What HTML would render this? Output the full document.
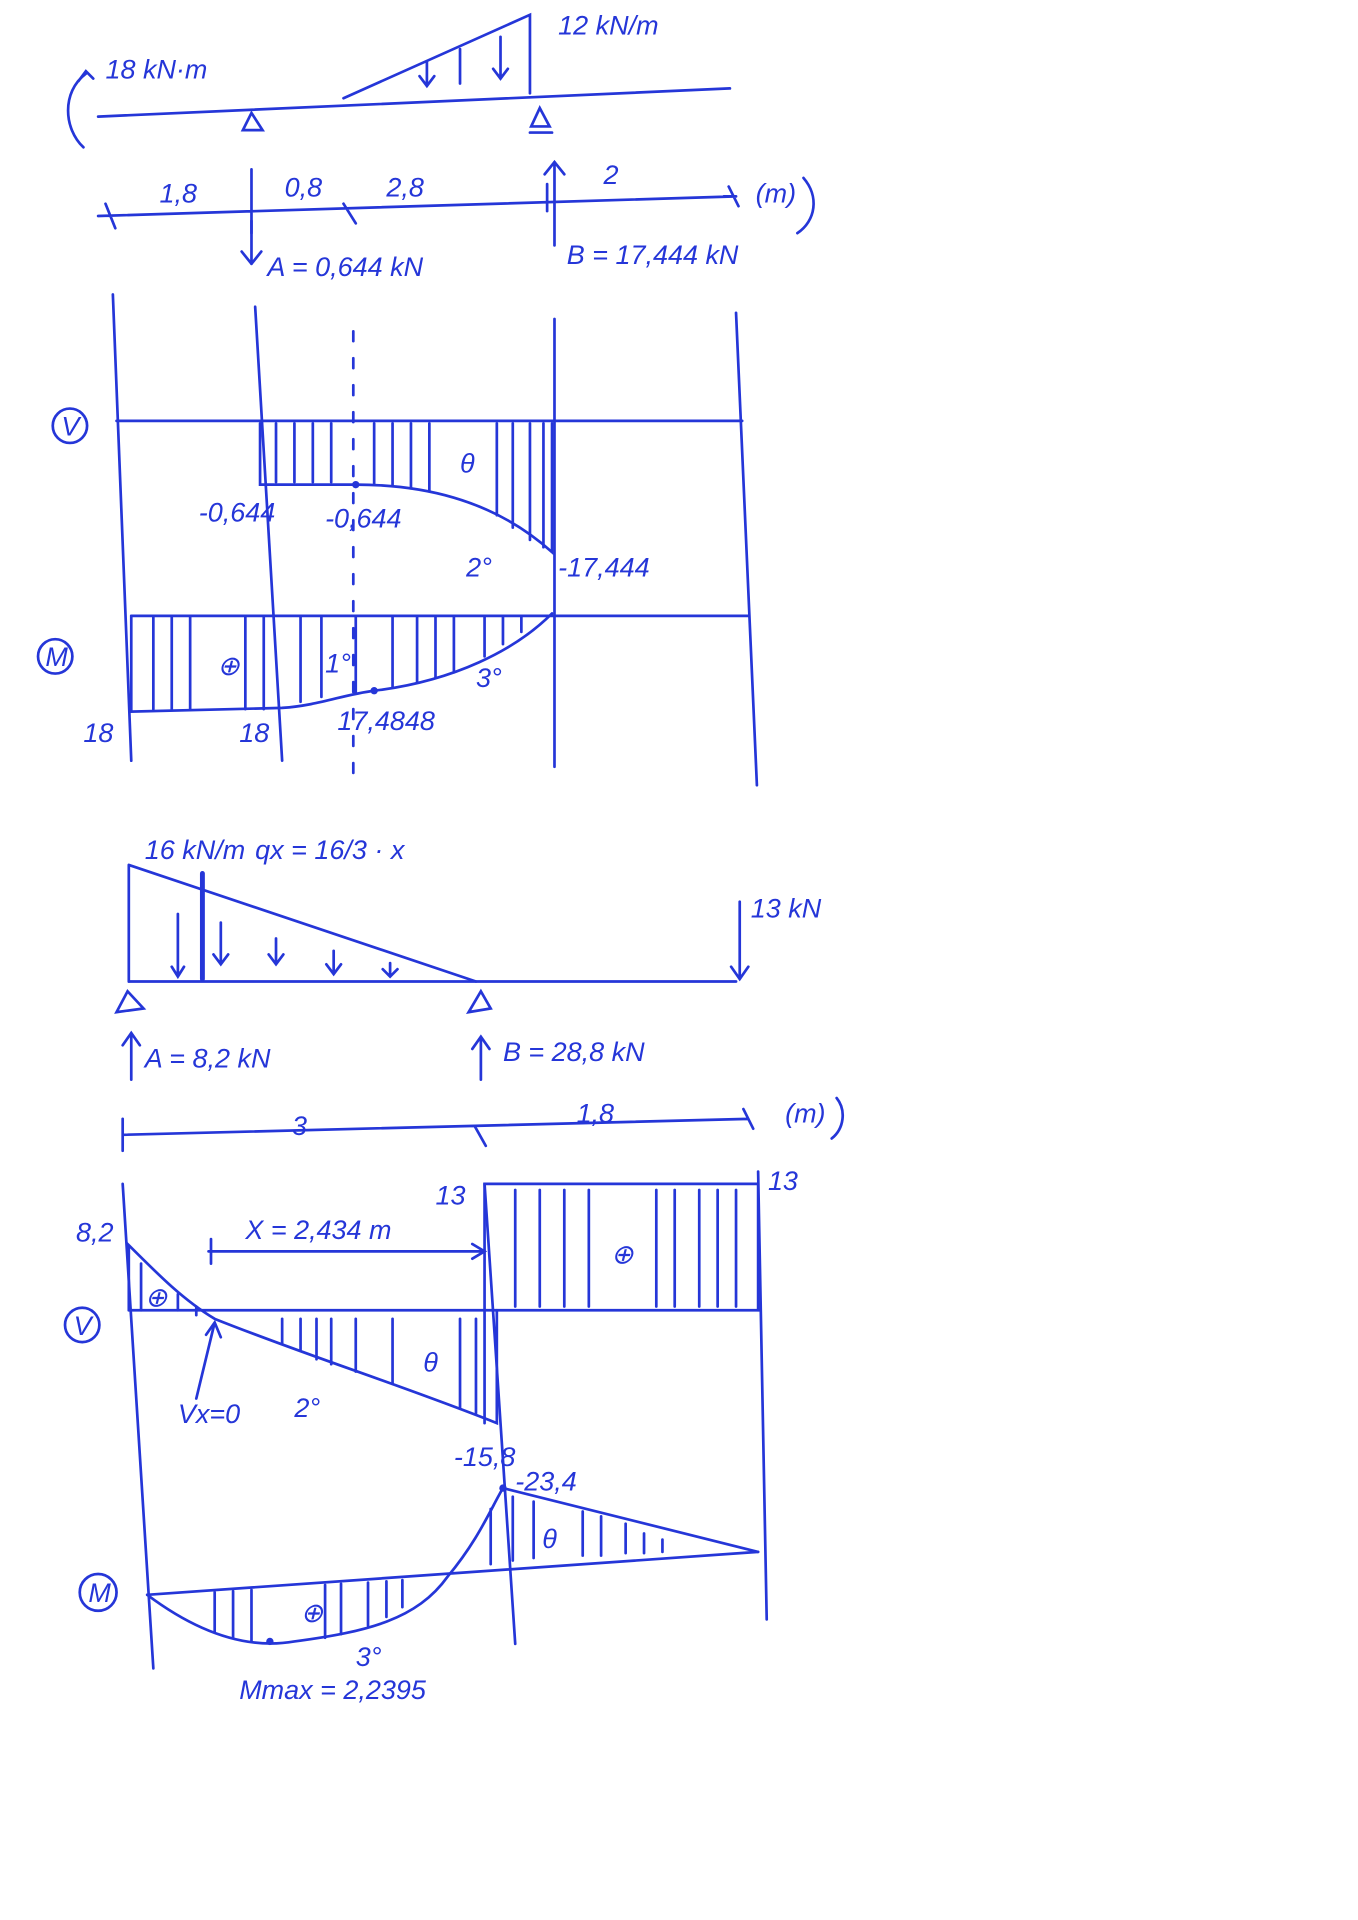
<!DOCTYPE html>
<html><head><meta charset="utf-8"><style>
html,body{margin:0;padding:0;background:#fff;}
svg{display:block}
text{font-family:"Liberation Sans",sans-serif;font-style:italic;fill:#2536d8;font-size:22px}
</style></head><body>
<svg width="1358" height="1920" viewBox="0 0 1107 1565" xmlns="http://www.w3.org/2000/svg">
<g stroke="#2536d8" stroke-width="2.2" fill="none" stroke-linecap="round">
<path d="M80 95 L595 72"/>
<path d="M280 80 L432 12 L432 76"/>
<path d="M348 50 V70 M342 62 L348 70 L354 62 M375 40 V68 M408 30 V64 M402 56 L408 64 L414 56"/>
<path d="M70 60 C50 75 52 105 68 120 M64 66 L70 58 L76 64"/>
<path d="M198 106 L205 92 L214 106 Z M433 103 L440 88 L448 103 Z M432 108 H450"/>
<path d="M80 176 L600 160 M86 166 L94 186 M205 138 V190 M280 166 L290 182 M446 150 V172 M594 152 L602 168 M590 160 L600 160"/>
<path d="M205 180 V215 M197 205 L205 215 M213 205 L205 215"/>
<path d="M452 200 V132 M444 142 L452 132 L460 142"/>
<path d="M655 145 C668 160 665 180 650 190"/>
<path d="M92 240 L107 620 M208 250 L230 620 M452 260 V625 M600 255 L617 640" />
<path d="M288 270 V640" stroke-dasharray="8 14"/>
<path d="M95 343 H605"/>
<path d="M212 345 V395 H290 C340 395 400 405 450 450 V345"/>
<path d="M225 345V393 M240 345V393 M255 345V393 M270 345V393 M305 345V395 M320 345V396 M335 345V398 M350 345V400 M405 345V420 M418 345V430 M432 345V440 M443 345V446"/>
<circle cx="57" cy="347" r="14"/>
<path d="M107 502 H610"/>
<path d="M107 502 V580 L230 577 C260 575 280 566 305 563 C370 555 420 530 450 500"/>
<path d="M125 503V578 M140 503V578 M155 503V578 M200 503V578 M215 503V578 M245 503V572 M262 503V568 M290 503V565 M320 503V560 M340 503V556 M355 503V552 M370 503V548 M395 503V535 M410 503V525 M425 503V515"/>
<circle cx="45" cy="535" r="14"/>
<path d="M105 800 H600"/>
<path d="M105 705 V800 M105 705 L388 800"/>
<path d="M165 712 V798" stroke-width="4"/>
<path d="M145 745 V795 M180 752 V785 M225 765 V785 M272 775 V792 M318 785 V795 M140 788 L145 796 L150 788 M174 778 L180 786 L186 778 M219 778 L225 786 L231 778 M266 786 L272 794 L278 786 M312 790 L318 796 L324 790"/>
<path d="M603 735 V798 M596 788 L603 798 L610 788"/>
<path d="M95 825 L104 808 L117 822 Z M382 825 L392 808 L400 822 Z"/>
<path d="M107 880 V842 M100 852 L107 842 L114 852 M392 880 V845 M385 855 L392 845 L399 855"/>
<path d="M100 925 L610 912 M100 912 V938 M387 918 L396 934 M606 904 L614 920 M682 895 C690 905 688 920 678 928"/>
<path d="M100 965 L125 1360 M395 965 L420 1340 M618 955 L625 1320"/>
<path d="M105 1068 H620"/>
<path d="M395 1160 V965 H618 V1068"/>
<path d="M105 1068 V1015 C130 1040 150 1060 175 1075 C250 1105 330 1130 405 1160 V1068"/>
<path d="M115 1030V1068 M145 1055V1068 M160 1065V1072 M230 1075V1095 M245 1075V1100 M258 1075V1108 M270 1075V1112 M290 1075V1118 M320 1075V1128 M375 1075V1148 M388 1075V1152"/>
<path d="M420 970V1065 M440 970V1065 M460 970V1065 M480 970V1065 M535 970V1065 M550 970V1065 M570 970V1065 M585 970V1065 M600 970V1065"/>
<path d="M170 1020 H395 M385 1014 L395 1020 L385 1026 M172 1010 V1030"/>
<path d="M160 1140 L175 1078 M168 1088 L175 1078 L180 1090"/>
<circle cx="67" cy="1080" r="14"/>
<path d="M120 1300 L618 1265"/>
<path d="M120 1300 C160 1330 200 1345 240 1338 C300 1330 340 1320 365 1285 C390 1255 400 1230 410 1213 L618 1265"/>
<path d="M175 1298V1330 M190 1297V1335 M205 1296V1338 M265 1292V1335 M278 1291V1332 M300 1290V1325 M315 1289V1318 M328 1288V1310 M400 1230V1275 M418 1220V1272 M435 1224V1270 M475 1232V1268 M490 1236V1268 M510 1242V1266 M525 1250V1266 M540 1255V1265"/>
<circle cx="80" cy="1298" r="15"/>
</g>
<g fill="#2536d8"><circle cx="220" cy="1338" r="3"/><circle cx="410" cy="1213" r="3"/><circle cx="305" cy="563" r="3"/><circle cx="290" cy="395" r="3"/></g>
<text x="86" y="64" font-size="18">18 kN·m</text>
<text x="455" y="28">12 kN/m</text>
<text x="130" y="165">1,8</text><text x="232" y="160">0,8</text><text x="315" y="160">2,8</text><text x="492" y="150">2</text><text x="616" y="165">(m)</text>
<text x="218" y="225">A = 0,644 kN</text><text x="462" y="215">B = 17,444 kN</text>
<text x="50" y="355" font-size="18">V</text><text x="375" y="385">θ</text>
<text x="162" y="425">-0,644</text><text x="265" y="430">-0,644</text><text x="380" y="470">2°</text><text x="455" y="470">-17,444</text>
<text x="37" y="543" font-size="18">M</text><text x="177" y="550">⊕</text><text x="265" y="548">1°</text><text x="388" y="560">3°</text>
<text x="68" y="605">18</text><text x="195" y="605">18</text><text x="275" y="595">17,4848</text>
<text x="118" y="700">16 kN/m</text><text x="208" y="700">qx = 16/3 · x</text><text x="612" y="748">13 kN</text>
<text x="118" y="870">A = 8,2 kN</text><text x="410" y="865">B = 28,8 kN</text>
<text x="238" y="925">3</text><text x="470" y="915">1,8</text><text x="640" y="915">(m)</text>
<text x="355" y="982">13</text><text x="626" y="970">13</text><text x="62" y="1012">8,2</text>
<text x="200" y="1010">X = 2,434 m</text><text x="498" y="1030">⊕</text><text x="118" y="1065">⊕</text><text x="345" y="1118">θ</text>
<text x="60" y="1088" font-size="18">V</text><text x="145" y="1160">Vx=0</text><text x="240" y="1155">2°</text>
<text x="370" y="1195">-15,8</text><text x="420" y="1215">-23,4</text><text x="442" y="1262">θ</text>
<text x="72" y="1306" font-size="18">M</text><text x="245" y="1322">⊕</text><text x="290" y="1358">3°</text><text x="195" y="1385">Mmax = 2,2395</text>
</svg>
</body></html>
